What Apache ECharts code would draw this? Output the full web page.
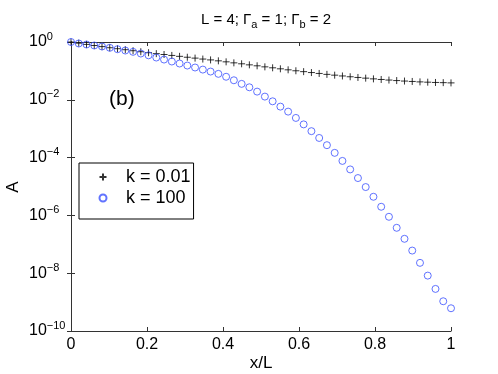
<!DOCTYPE html>
<html>
<head>
    <meta charset="utf-8">
    <title>A vs x/L</title>
    <script src="https://cdn.jsdelivr.net/npm/echarts@6/dist/echarts.min.js"></script>
</head>
<body style="margin:0">
<div id="main" style="width:498px;height:374px"></div>
<script type="text/javascript">
    // x/L sample points (50 points from 0 to 1)
    var xs = [0, 0.0204, 0.0408, 0.0612, 0.0816, 0.1020, 0.1224, 0.1429, 0.1633, 0.1837,
        0.2041, 0.2245, 0.2449, 0.2653, 0.2857, 0.3061, 0.3265, 0.3469, 0.3673, 0.3878,
        0.4082, 0.4286, 0.4490, 0.4694, 0.4898, 0.5102, 0.5306, 0.5510, 0.5714, 0.5918,
        0.6122, 0.6327, 0.6531, 0.6735, 0.6939, 0.7143, 0.7347, 0.7551, 0.7755, 0.7959,
        0.8163, 0.8367, 0.8571, 0.8776, 0.8980, 0.9184, 0.9388, 0.9592, 0.9796, 1];
    // k = 0.01
    var aSmallK = [1, 0.909, 0.826, 0.756, 0.693, 0.634, 0.586, 0.541, 0.499, 0.461,
        0.426, 0.396, 0.369, 0.343, 0.319, 0.297, 0.277, 0.257, 0.240, 0.223,
        0.206, 0.190, 0.176, 0.162, 0.150, 0.138, 0.128, 0.118, 0.109, 0.101,
        0.0942, 0.0877, 0.0816, 0.0759, 0.0712, 0.0668, 0.0627, 0.0593, 0.0561, 0.0530,
        0.0505, 0.0482, 0.0463, 0.0445, 0.0431, 0.0417, 0.0407, 0.0398, 0.0392, 0.0385];
    // k = 100
    var aLargeK = [1, 0.887, 0.819, 0.756, 0.698, 0.630, 0.563, 0.507, 0.457, 0.399,
        0.346, 0.290, 0.247, 0.211, 0.180, 0.153, 0.131, 0.111, 0.0949, 0.0790,
        0.0627, 0.0474, 0.0356, 0.0271, 0.0192, 0.0129, 8.87e-3, 5.81e-3, 3.90e-3, 2.36e-3,
        1.41e-3, 8.22e-4, 4.78e-4, 2.69e-4, 1.46e-4, 7.68e-5, 3.90e-5, 1.96e-5, 9.57e-6, 4.41e-6,
        1.99e-6, 8.95e-7, 3.72e-7, 1.55e-7, 6.07e-8, 2.28e-8, 8.25e-9, 2.86e-9, 1.07e-9, 6.12e-10];
    var seriesNames = ['k = 0.01', 'k = 100'];
    var xTicks = ['0', '0.2', '0.4', '0.6', '0.8', '1'];

    function pairs(ys) {
        return xs.map(function (x, i) { return [x, ys[i]]; });
    }

    var font = 'Liberation Sans, Arial, sans-serif';
    var axisColor = '#333';
    var blue = '#3a50ff';
    var myChart = echarts.init(document.getElementById('main'));

    option = {
        animation: false,
        backgroundColor: '#fff',
        textStyle: { fontFamily: font },
        title: {
            text: 'L = 4; Γ{s|a} = 1; Γ{s|b} = 2',
            left: 261,
            textAlign: 'center',
            top: 4,
            textStyle: {
                fontFamily: font,
                fontWeight: 'normal',
                fontSize: 15,
                color: '#000',
                rich: {
                    s: { fontSize: 11, fontFamily: font, padding: [10, 0, 0, 0], color: '#000' }
                }
            }
        },
        // panel tag and axis titles
        graphic: [{
            type: 'text',
            left: 109,
            top: 89,
            style: { text: '(b)', font: '21px ' + font, fill: '#000' }
        }, {
            type: 'text',
            x: 13,
            y: 187,
            rotation: Math.PI / 2,
            style: { text: 'A', font: '17px ' + font, fill: '#000', align: 'center', verticalAlign: 'middle' }
        }, {
            type: 'text',
            x: 261,
            y: 363,
            style: { text: 'x/L', font: '17px ' + font, fill: '#000', align: 'center', verticalAlign: 'middle' }
        }],
        legend: {
            orient: 'vertical',
            left: 79,
            top: 163,
            padding: [5, 3, 12, 18],
            itemGap: 3,
            itemWidth: 10,
            itemHeight: 7,
            borderColor: '#000',
            borderWidth: 1,
            textStyle: { fontSize: 18, lineHeight: 18, color: '#000', fontFamily: font, padding: [0, 0, 0, 13] },
            data: seriesNames
        },
        grid: {
            left: 71,
            right: 47,
            top: 42,
            bottom: 43,
            outerBoundsMode: 'none'
        },
        xAxis: [{
            type: 'value',
            min: 0,
            max: 1,
            interval: 0.2,
            axisLine: { lineStyle: { color: axisColor } },
            axisTick: { inside: true, length: 4, lineStyle: { color: axisColor } },
            axisLabel: {
                fontSize: 16, color: '#000', margin: 6,
                formatter: function (v) { return xTicks[Math.round(v / 0.2)]; }
            },
            splitLine: { show: false }
        }, {
            type: 'value',
            position: 'top',
            min: 0,
            max: 1,
            interval: 0.2,
            axisLine: { lineStyle: { color: axisColor } },
            axisTick: { inside: true, length: 4, lineStyle: { color: axisColor } },
            axisLabel: { show: false },
            splitLine: { show: false }
        }],
        yAxis: [{
            type: 'log',
            logBase: 10,
            min: 1e-10,
            max: 1,
            interval: 2,
            axisLine: { lineStyle: { color: axisColor } },
            axisTick: { inside: true, length: 4, lineStyle: { color: axisColor } },
            minorTick: { show: false },
            axisLabel: {
                margin: 42,
                align: 'left',
                color: '#000',
                formatter: function (v) {
                    var e = Math.round(Math.log10(v));
                    return '{b|10}{e|' + (e < 0 ? '\u2212' + (-e) : e) + '}';
                },
                rich: {
                    b: { fontSize: 16, fontFamily: font, color: '#000' },
                    e: { fontSize: 11, fontFamily: font, color: '#000', padding: [0, 0, 11, 0] }
                }
            },
            splitLine: { show: false }
        }, {
            type: 'log',
            logBase: 10,
            min: 1e-10,
            max: 1,
            interval: 2,
            position: 'right',
            axisLine: { lineStyle: { color: axisColor } },
            axisTick: { inside: true, length: 4, lineStyle: { color: axisColor } },
            axisLabel: { show: false },
            splitLine: { show: false }
        }],
        series: [{
            name: seriesNames[0],
            type: 'scatter',
            symbol: 'path://M0,5L10,5M5,0L5,10',
            symbolSize: 7,
            clip: false,
            itemStyle: { color: 'none', borderColor: '#000', borderWidth: 1 },
            data: pairs(aSmallK)
        }, {
            name: seriesNames[1],
            type: 'scatter',
            symbol: 'circle',
            symbolSize: 7,
            clip: false,
            itemStyle: { color: 'rgba(0,0,0,0)', borderColor: blue, borderWidth: 1 },
            data: pairs(aLargeK)
        }]
    };
    myChart.setOption(option);
</script>
</body>
</html>
